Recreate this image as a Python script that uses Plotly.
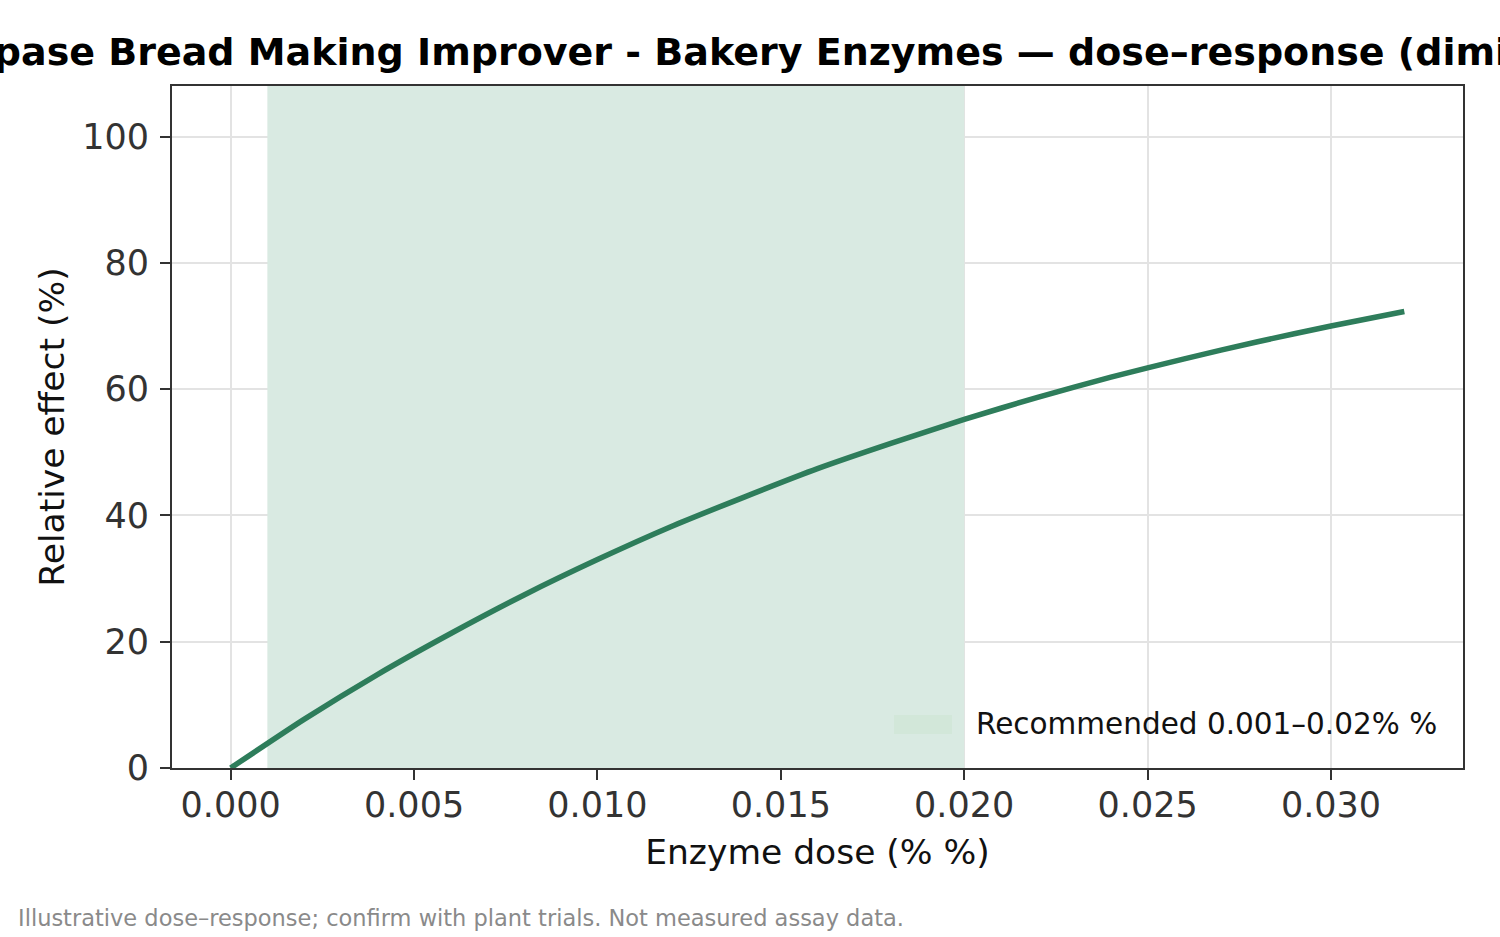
import plotly.graph_objects as go

# Data
dose = [0.000, 0.002, 0.004, 0.006, 0.008, 0.010, 0.012, 0.014, 0.016,
        0.018, 0.020, 0.022, 0.024, 0.026, 0.028, 0.030, 0.032]
effect = [0.0, 7.7, 14.8, 21.3, 27.4, 33.0, 38.2, 42.9, 47.4,
          51.4, 55.2, 58.7, 61.9, 64.8, 67.5, 70.0, 72.3]
rec_range = [0.001, 0.020]
y_range = [0, 108]
x_range = [-0.0016, 0.0336]
x_ticks = [0.000, 0.005, 0.010, 0.015, 0.020, 0.025, 0.030]
x_ticklabels = ["0.000", "0.005", "0.010", "0.015", "0.020", "0.025", "0.030"]
y_ticks = [0, 20, 40, 60, 80, 100]

title_text = "Lipase Bread Making Improver - Bakery Enzymes \u2014 dose\u2013response (diminishing)"
legend_text = "Recommended 0.001\u20130.02% %"
footnote = "Illustrative dose\u2013response; confirm with plant trials. Not measured assay data."

FONT = "DejaVu Sans"
BAND = "#d9eae2"
PATCH = "#d2e7d9"
LINE = "#2e7d5b"
W, H = 1500, 937
ML, MR, MT, MB = 172, 37, 86, 169
PW = W - ML - MR
PH = H - MT - MB


def px_x(p):
    return (p - ML) / PW


def px_y(p):
    return (MT + PH - p) / PH


fig = go.Figure()

fig.add_trace(go.Scatter(
    x=[rec_range[0], rec_range[1], rec_range[1], rec_range[0], rec_range[0]],
    y=[y_range[0], y_range[0], y_range[1], y_range[1], y_range[0]],
    mode="none", fill="toself", fillcolor=BAND,
    name=legend_text, hoverinfo="skip", showlegend=False,
))

fig.add_trace(go.Scatter(
    x=dose, y=effect, mode="lines",
    line=dict(color=LINE, width=5.5, shape="spline", smoothing=0.6),
    showlegend=False, name="effect",
))

axis_common = dict(
    showline=True, linecolor="#333333", linewidth=2, mirror=True,
    ticks="outside", ticklen=10, tickwidth=2, tickcolor="#333333",
    showgrid=True, gridcolor="#e3e3e3", gridwidth=1.5,
    zeroline=False,
    tickfont=dict(family=FONT, size=35, color="#333333"),
)

fig.update_xaxes(
    range=x_range, tickvals=x_ticks, ticktext=x_ticklabels,
    title=dict(text="Enzyme dose (% %)", font=dict(family=FONT, size=34.5, color="#111111"),
               standoff=16),
    ticklabelstandoff=-5,
    **axis_common,
)
fig.update_yaxes(
    range=y_range, tickvals=y_ticks,
    title=dict(text="Relative effect (%)", font=dict(family=FONT, size=34.5, color="#111111"),
               standoff=7),
    ticklabelstandoff=4,
    **axis_common,
)

fig.update_layout(
    width=W, height=H,
    margin=dict(l=ML, r=MR, t=MT, b=MB, autoexpand=False),
    paper_bgcolor="white", plot_bgcolor="white",
    font=dict(family=FONT, color="#111111"),
    showlegend=False,
    title=dict(
        text="<b>" + title_text + "</b>",
        x=0.5 + 2 / PW, xref="paper", xanchor="center",
        y=1 - 52 / H, yref="container", yanchor="middle",
        font=dict(family=FONT, size=38, color="#000000"),
    ),
    shapes=[dict(
        type="rect", xref="paper", yref="paper",
        x0=px_x(894), x1=px_x(952), y0=px_y(734), y1=px_y(715),
        fillcolor=PATCH, line=dict(width=0), layer="above",
    )],
    annotations=[
        dict(
            text=legend_text, xref="paper", yref="paper",
            x=px_x(974), xanchor="left", y=px_y(724), yanchor="middle",
            showarrow=False, font=dict(family=FONT, size=29.5, color="#111111"),
        ),
        dict(
            text=footnote, xref="paper", yref="paper",
            x=px_x(16), xanchor="left", y=px_y(918), yanchor="middle",
            showarrow=False, font=dict(family=FONT, size=22.5, color="#8a8a8a"),
        ),
    ],
)

fig.write_html("out.html")
